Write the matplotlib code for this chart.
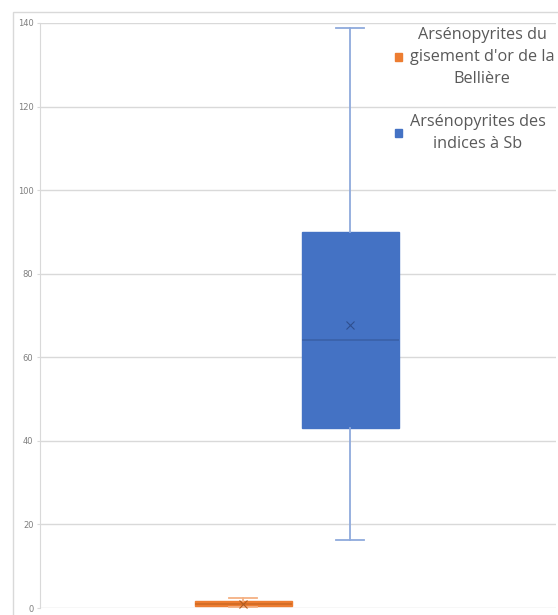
import matplotlib
matplotlib.use("Agg")
import matplotlib.pyplot as plt
from matplotlib.patches import Patch, Rectangle

# values
series = ["Arsénopyrites du\ngisement d'or de la\nBellière", "Arsénopyrites des\nindices à Sb"]
colors = ["#ED7D31", "#4472C4"]
whis_colors = ["#F4B183", "#8FAADC"]
whislo = [0.2, 16.3]
q1 = [0.4, 43.1]
med = [1.0, 64.2]
q3 = [1.7, 90.1]
whishi = [2.4, 138.8]
means = [1.0, 67.8]
yticks = [0, 20, 40, 60, 80, 100, 120, 140]

W, H = 558, 615
fig = plt.figure(figsize=(W / 100, H / 100), dpi=100)
ax = fig.add_axes([40 / W, (H - 608) / H, (556 - 40) / W, (608 - 23) / H])

# chart border
fig.patches.append(Rectangle((13 / W, -0.1), 1.2, (H - 12) / H + 0.1, transform=fig.transFigure,
                             fill=False, edgecolor="#D9D9D9", linewidth=1))

positions = [243, 350]
for i in range(2):
    st = [dict(whislo=whislo[i], q1=q1[i], med=med[i], q3=q3[i], whishi=whishi[i], mean=means[i])]
    ax.bxp(st, positions=[positions[i]], widths=97, showmeans=True, patch_artist=True,
           showfliers=False, manage_ticks=False,
           boxprops=dict(facecolor=colors[i], edgecolor=colors[i], linewidth=1),
           medianprops=dict(color="#3A61A8" if i else "#D06A24", linewidth=1.2),
           whiskerprops=dict(color=whis_colors[i], linewidth=1.3),
           capprops=dict(color=whis_colors[i], linewidth=1.3),
           capwidths=28,
           meanprops=dict(marker="x", markeredgecolor="#2F4F8F" if i else "#B05A20",
                          markersize=6, markeredgewidth=0.8))

ax.set_xlim(40, 556)
ax.set_ylim(0, 140)
ax.set_yticks(yticks)
ax.set_xticks([])
ax.grid(axis="y", color="#D9D9D9", linewidth=1)
ax.set_axisbelow(True)
for s in ["top", "right", "bottom"]:
    ax.spines[s].set_visible(False)
ax.spines["left"].set_color("#D9D9D9")
ax.tick_params(axis="y", length=2.2, color="#D9D9D9", labelsize=6, labelcolor="#7F7F7F", pad=2.5)

handles = [Patch(facecolor=c, edgecolor=c) for c in colors]
leg = fig.legend(handles, series, loc="upper left", bbox_to_anchor=(395 / W, 1 - 27 / H),
                 frameon=False, handlelength=0.4, handleheight=0.4,
                 handletextpad=0.5, labelspacing=1.65, borderaxespad=0, borderpad=0,
                 prop={"family": "Open Sans", "size": 11.7})
for t in leg.get_texts():
    t.set_multialignment("center")
    t.set_linespacing(1.5)
    t.set_color("#595959")

fig.savefig("out.png", dpi=100)
